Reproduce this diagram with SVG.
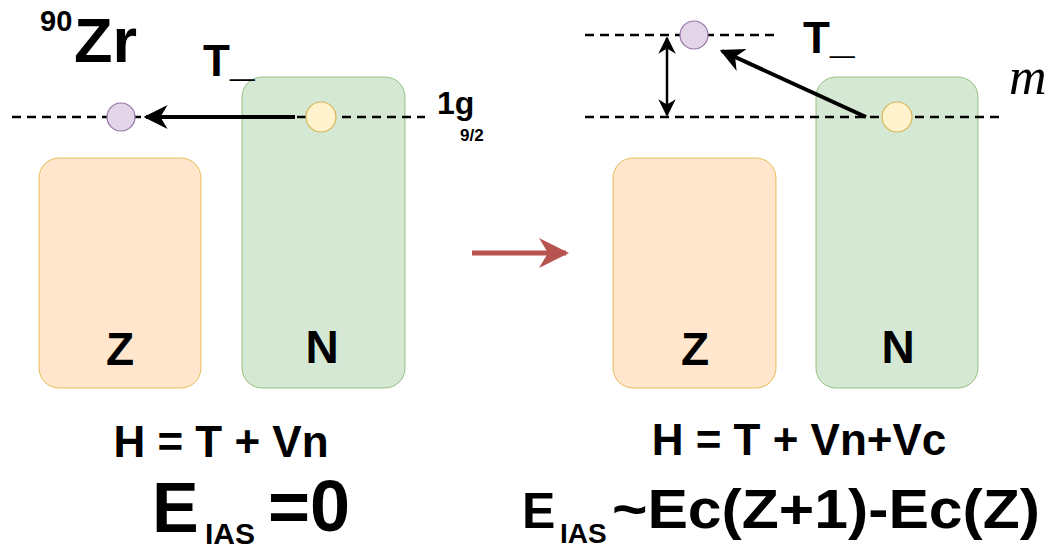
<svg xmlns="http://www.w3.org/2000/svg" width="1047" height="548" viewBox="0 0 1047 548">
<defs>
<style>
.t{font-family:"Liberation Sans",Arial,sans-serif;font-weight:bold;fill:#000}
.zbox{fill:#ffe6cc;stroke:#d79b00;stroke-width:1;stroke-opacity:0.6}
.nbox{fill:#d5e8d4;stroke:#82b366;stroke-width:1;stroke-opacity:0.8}
.pc{fill:#e1d5e7;stroke:#9673a6;stroke-width:1.2}
.yc{fill:#fff2cc;stroke:#d6b656;stroke-width:1.2}
.dash{stroke:#000;stroke-width:2.4;stroke-dasharray:9 6;fill:none}
.arr{stroke:#000;stroke-width:4;fill:none}
</style>
<marker id="ah" viewBox="0 0 10 10" refX="9" refY="5" markerWidth="6" markerHeight="6" markerUnits="strokeWidth" orient="auto-start-reverse">
<path d="M0,0 L10,5 L0,10 L3,5 Z" fill="#000"/>
</marker>
<marker id="ah2" viewBox="0 0 10 10" refX="9" refY="5" markerWidth="7" markerHeight="8" markerUnits="strokeWidth" orient="auto-start-reverse">
<path d="M0,0 L10,5 L0,10 L3,5 Z" fill="#000"/>
</marker>
<marker id="ahr" viewBox="0 0 10 10" refX="9" refY="5" markerWidth="6" markerHeight="6" markerUnits="strokeWidth" orient="auto">
<path d="M0,0 L10,5 L0,10 L3,5 Z" fill="#b85450"/>
</marker>
</defs>
<rect width="1047" height="548" fill="#fff"/>

<g id="left-z-box"><rect class="zbox" x="39" y="158" width="162" height="230" rx="20"/><text class="t" x="120" y="365" font-size="46" text-anchor="middle">Z</text></g>
<g id="left-n-box"><rect class="nbox" x="242" y="77" width="163" height="311" rx="20"/><text class="t" x="322" y="363" font-size="46" text-anchor="middle">N</text></g>
<g id="right-z-box"><rect class="zbox" x="613" y="158" width="163" height="230" rx="20"/><text class="t" x="695" y="365" font-size="46" text-anchor="middle">Z</text></g>
<g id="right-n-box"><rect class="nbox" x="816" y="77" width="162" height="311" rx="20"/><text class="t" x="898" y="363" font-size="46" text-anchor="middle">N</text></g>

<g id="levels">
<line class="dash" x1="12" y1="117" x2="425" y2="117"/>
<line class="dash" x1="585" y1="35" x2="780" y2="35"/>
<line class="dash" x1="585" y1="117" x2="1002" y2="117"/>
</g>

<g id="left-proton"><circle class="pc" cx="121" cy="117" r="14"/></g>
<g id="left-neutron"><circle class="yc" cx="321" cy="117" r="15"/></g>
<g id="right-proton"><circle class="pc" cx="694" cy="35" r="14"/></g>
<g id="right-neutron"><circle class="yc" cx="897" cy="117" r="15"/></g>

<g id="connectors">
<line class="arr" x1="295" y1="117" x2="146" y2="117" marker-end="url(#ah)"/>
<line class="arr" x1="866" y1="117" x2="722" y2="51" marker-end="url(#ah)"/>
<line stroke="#000" stroke-width="2.5" x1="667" y1="38" x2="667" y2="115" marker-start="url(#ah2)" marker-end="url(#ah2)"/>
<line stroke="#b85450" stroke-width="5" x1="472" y1="253" x2="566" y2="253" marker-end="url(#ahr)"/>
</g>

<g id="labels">
<text class="t" x="40" y="31" font-size="29">90</text>
<text class="t" x="74" y="62" font-size="63">Zr</text>
<text class="t" x="203" y="76" font-size="44">T_</text>
<text class="t" x="437" y="114" font-size="32">1g</text>
<text class="t" x="460" y="141" font-size="17">9/2</text>
<text class="t" x="803" y="53" font-size="44">T_</text>
<text x="1009" y="94" font-size="52" font-style="italic" font-family="Liberation Serif, 'Times New Roman', serif">m</text>
<text class="t" x="221" y="457" font-size="44" text-anchor="middle">H = T + Vn</text>
<text class="t" x="152" y="532" font-size="70">E</text>
<text class="t" x="205" y="544" font-size="30">IAS</text>
<text class="t" x="268" y="531" font-size="72">=0</text>
<text class="t" x="799" y="455" font-size="44" text-anchor="middle">H = T + Vn+Vc</text>
<text class="t" x="522" y="528" font-size="50">E</text>
<text class="t" x="560" y="543" font-size="28">IAS</text>
<text class="t" x="612" y="528" font-size="56" textLength="428" lengthAdjust="spacingAndGlyphs">~Ec(Z+1)-Ec(Z)</text>
</g>
</svg>
